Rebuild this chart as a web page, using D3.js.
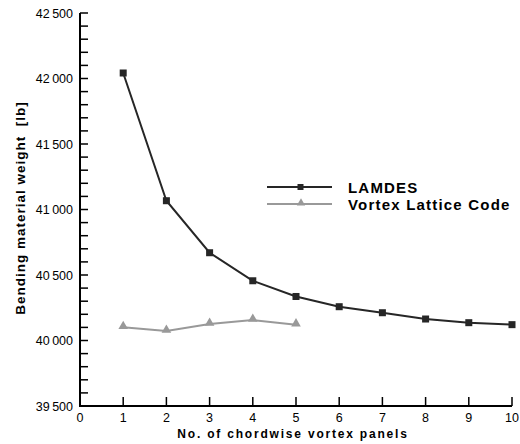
<!DOCTYPE html>
<html>
<head>
<meta charset="utf-8">
<script src="https://cdn.jsdelivr.net/npm/d3@7"></script>
<style>
  body { margin: 0; background: #fff; }
  text { font-family: "Liberation Sans", Arial, sans-serif; white-space: pre; }
</style>
</head>
<body>
<svg id="chart"></svg>
<script>
const panels = [1, 2, 3, 4, 5, 6, 7, 8, 9, 10];
const lamdes = [42042, 41067, 40670, 40456, 40336, 40258, 40212, 40164, 40136, 40121];
const vlmPanels = [1, 2, 3, 4, 5];
const vortexLattice = [40101, 40072, 40126, 40156, 40121];
const xTicks = [0, 1, 2, 3, 4, 5, 6, 7, 8, 9, 10];
const yTicks = [39500, 40000, 40500, 41000, 41500, 42000, 42500];
const seriesNames = ["LAMDES", "Vortex Lattice Code"];

const width = 520, height = 444;
const margin = { left: 80, right: 8, top: 13, bottom: 38 };

const svg = d3.select('#chart')
    .attr('width', width)
    .attr('height', height);

const x = d3.scaleLinear().domain([0, 10]).range([margin.left, width - margin.right]);
const y = d3.scaleLinear().domain([39500, 42500]).range([height - margin.bottom, margin.top]);

const fmt = v => { const s = String(v); return s.slice(0, 2) + '\u2009' + s.slice(2); };

// y axis: minor ticks every 100, inward
const yAxis = svg.append('g').attr('transform', `translate(${margin.left},0)`);
yAxis.append('line')
    .attr('x1', 0).attr('x2', 0)
    .attr('y1', y(42500)).attr('y2', y(39500))
    .attr('stroke', '#000').attr('stroke-width', 2);
yAxis.selectAll('.minor')
    .data(d3.range(39600, 42501, 100))
    .join('line')
    .attr('class', 'minor')
    .attr('x1', 0).attr('x2', 8)
    .attr('y1', d => y(d)).attr('y2', d => y(d))
    .attr('stroke', '#000').attr('stroke-width', 1.5);
yAxis.selectAll('.lbl')
    .data(yTicks)
    .join('text')
    .attr('class', 'lbl')
    .attr('x', -7).attr('y', d => y(d))
    .attr('dy', '0.36em')
    .attr('text-anchor', 'end')
    .attr('font-size', 12.5)
    .attr('fill', '#000')
    .text(fmt);

// x axis
const xAxis = svg.append('g').attr('transform', `translate(0,${y(39500)})`);
xAxis.append('line')
    .attr('x1', x(0) - 1).attr('x2', x(10))
    .attr('y1', 0).attr('y2', 0)
    .attr('stroke', '#000').attr('stroke-width', 2);
xAxis.selectAll('.tk')
    .data(xTicks.slice(1))
    .join('line')
    .attr('class', 'tk')
    .attr('x1', d => x(d)).attr('x2', d => x(d))
    .attr('y1', 0).attr('y2', -9)
    .attr('stroke', '#000').attr('stroke-width', 1.5);
xAxis.selectAll('.lbl')
    .data(xTicks)
    .join('text')
    .attr('class', 'lbl')
    .attr('x', d => x(d)).attr('y', 16)
    .attr('text-anchor', 'middle')
    .attr('font-size', 12.5)
    .text(d => d);

// axis titles
svg.append('text')
    .attr('x', 293).attr('y', 438)
    .attr('text-anchor', 'middle')
    .attr('font-size', 12)
    .attr('font-weight', 'bold')
    .attr('letter-spacing', 1.8)
    .text('No. of chordwise vortex panels');

svg.append('text')
    .attr('transform', `translate(25,208) rotate(-90)`)
    .attr('text-anchor', 'middle')
    .attr('font-size', 13.5)
    .attr('font-weight', 'bold')
    .attr('letter-spacing', 1)
    .text('Bending material weight  [lb]');

// series
const line = d3.line().x(d => x(d[0])).y(d => y(d[1]));
const lamdesPts = panels.map((p, i) => [p, lamdes[i]]);
const vlmPts = vlmPanels.map((p, i) => [p, vortexLattice[i]]);

svg.append('path')
    .attr('d', line(vlmPts))
    .attr('fill', 'none').attr('stroke', '#999').attr('stroke-width', 2);
const tri = d3.symbol().type(d3.symbolTriangle).size(40);
svg.selectAll('.tri')
    .data(vlmPts)
    .join('path')
    .attr('class', 'tri')
    .attr('transform', d => `translate(${x(d[0])},${y(d[1]) - 1})`)
    .attr('d', tri)
    .attr('fill', '#999');

svg.append('path')
    .attr('d', line(lamdesPts))
    .attr('fill', 'none').attr('stroke', '#262626').attr('stroke-width', 2);
svg.selectAll('.sq')
    .data(lamdesPts)
    .join('rect')
    .attr('class', 'sq')
    .attr('x', d => x(d[0]) - 3.5).attr('y', d => y(d[1]) - 3.5)
    .attr('width', 7).attr('height', 7)
    .attr('fill', '#262626');

// legend
const legend = svg.append('g').attr('transform', 'translate(267,187)');
const items = [
    { name: seriesNames[0], color: '#262626', dy: 0, mark: 'sq' },
    { name: seriesNames[1], color: '#999', dy: 17, mark: 'tri' }
];
items.forEach(it => {
    const g = legend.append('g').attr('transform', `translate(0,${it.dy})`);
    g.append('line').attr('x1', 0).attr('x2', 65).attr('y1', 0).attr('y2', 0)
        .attr('stroke', it.color).attr('stroke-width', 2);
    if (it.mark === 'sq') {
        g.append('rect').attr('x', 30.5).attr('y', -3).attr('width', 6).attr('height', 6).attr('fill', it.color);
    } else {
        g.append('path').attr('transform', 'translate(34,-1)').attr('d', d3.symbol().type(d3.symbolTriangle).size(30)).attr('fill', it.color);
    }
    g.append('text').attr('x', 81).attr('y', 5.5)
        .attr('font-size', 15).attr('font-weight', 'bold')
        .attr('letter-spacing', 1.2)
        .text(it.name);
});
</script>
</body>
</html>
